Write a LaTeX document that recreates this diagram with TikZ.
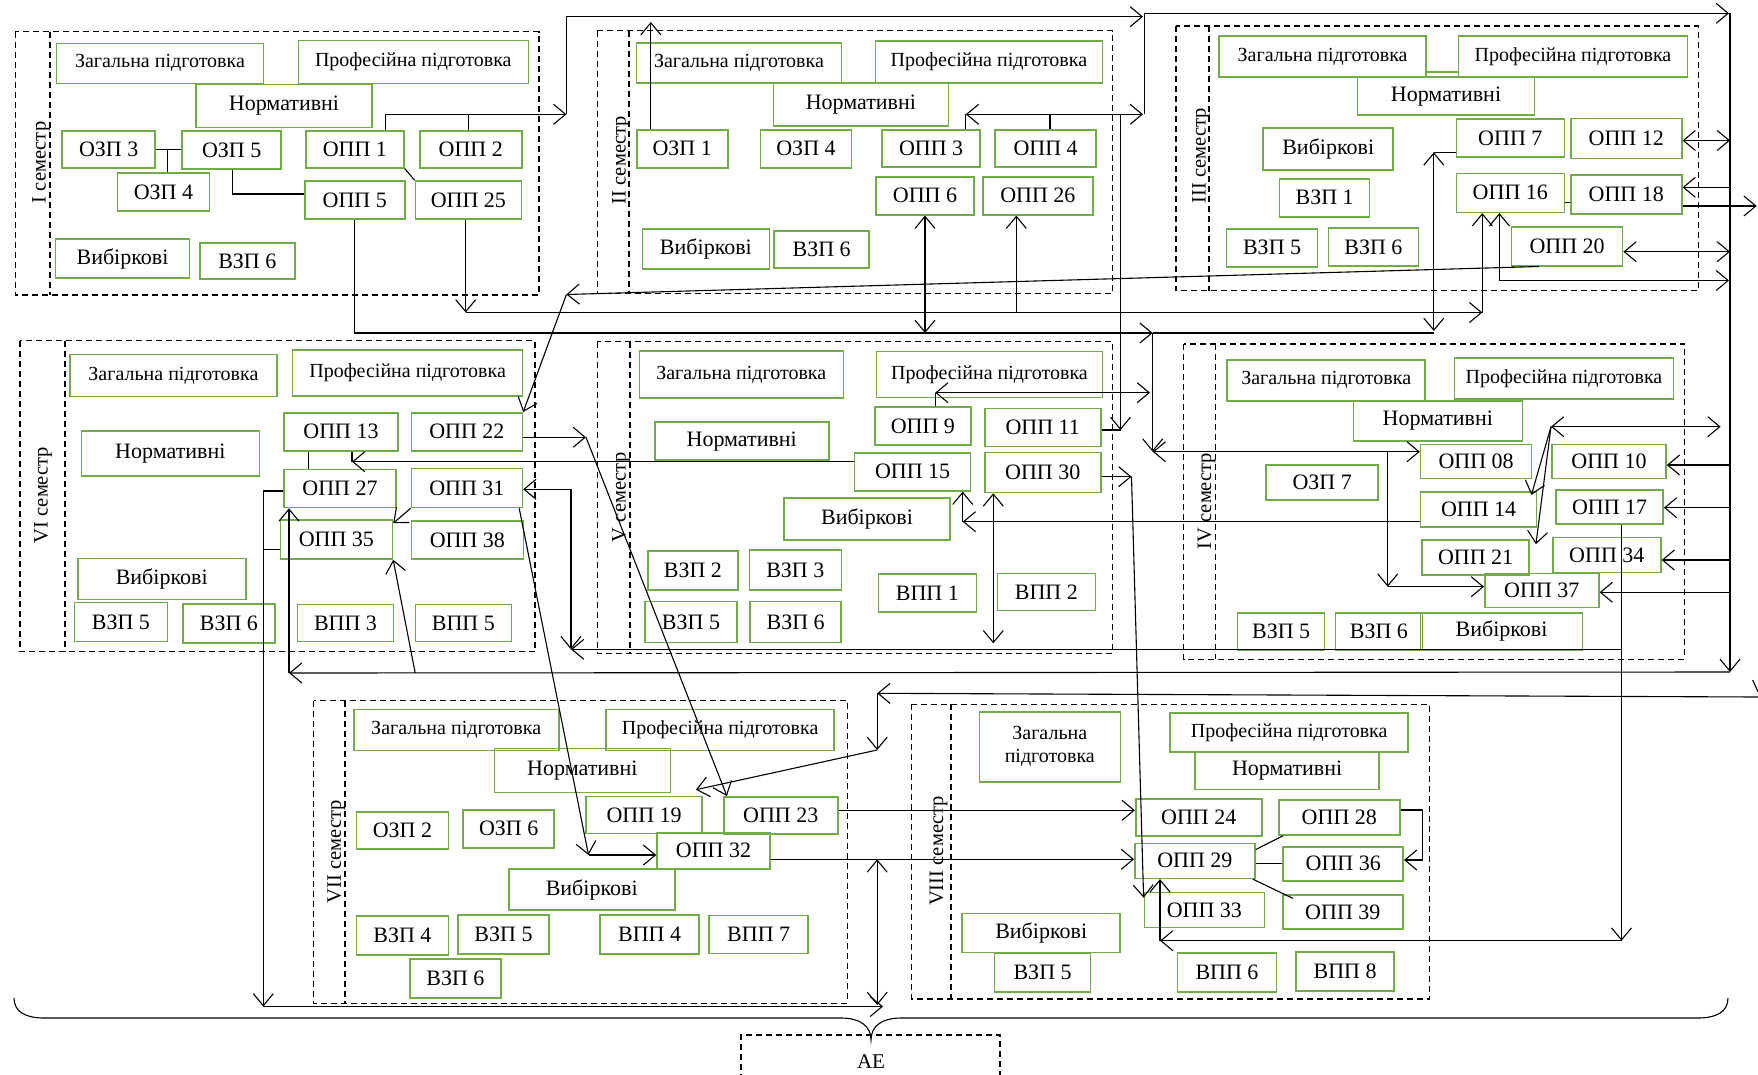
\documentclass[tikz,border=0pt]{standalone}
\usepackage{fontspec}
\setmainfont{Liberation Serif}
\usetikzlibrary{arrows.meta}
\definecolor{boxgreen}{RGB}{112,173,71}
\tikzset{
	>={Straight Barb[length=12pt,width=20pt]},
	gbox/.style={draw=boxgreen, line width=1.6pt, minimum height=37pt, inner sep=1pt, align=center, font=\fontsize{22}{24}\selectfont},
	headbox/.style={gbox, font=\fontsize{20}{23}\selectfont},
	sembox/.style={draw, line width=1.4pt, dash pattern=on 6pt off 4pt},
	semlabel/.style={rotate=90, font=\fontsize{20.5}{23}\selectfont}
}

\begin{document}
\begin{tikzpicture}[x=1pt, y=-1pt, line width=1.1pt]
	\useasboundingbox (0,0) rectangle (1758,1074);

	\draw[sembox] (15.3,31.7) rectangle (538.9,295);
	\draw[sembox] (49.8,31.7) -- (49.8,295);
	\draw[sembox] (597.2,30.7) rectangle (1112.7,293.3);
	\draw[sembox] (629,30.7) -- (629,293.3);
	\draw[sembox] (1176,26) rectangle (1698.5,290.7);
	\draw[sembox] (1208.8,26) -- (1208.8,290.7);
	\draw[sembox] (1183.6,344) rectangle (1684.4,659.3);
	\draw[sembox] (1215.3,344) -- (1215.3,659.3);
	\draw[sembox] (597.2,341.7) rectangle (1112.7,653.3);
	\draw[sembox] (629.8,341.7) -- (629.8,653.3);
	\draw[sembox] (19.9,340.7) rectangle (535,651.7);
	\draw[sembox] (65,340.7) -- (65,651.7);
	\draw[sembox] (313.7,700.7) rectangle (847.2,1003.3);
	\draw[sembox] (345,700.7) -- (345,1003.3);
	\draw[sembox] (911.7,704.3) rectangle (1429.5,999);
	\draw[sembox] (951.1,704.3) -- (951.1,999);
	\draw[sembox] (741,1080) -- (741,1035) -- (1000,1035) -- (1000,1080);

	\node[semlabel] (lab1) at (41,162.5) {I семестр};
	\node[semlabel] (lab2) at (621,160) {II семестр};
	\node[semlabel] (lab3) at (1201,156) {III семестр};
	\node[semlabel] (lab4) at (1206.6,501) {IV семестр};
	\node[semlabel] (lab5) at (621,497.5) {V семестр};
	\node[semlabel] (lab6) at (43,495) {VI семестр};
	\node[semlabel] (lab7) at (336.4,851.7) {VII семестр};
	\node[semlabel] (lab8) at (938.5,850.8) {VIII семестр};
	\node[font=\fontsize{21}{23}\selectfont] (ae) at (871,1062) {АЕ};

	\node[headbox, minimum width=207pt, minimum height=40pt] (zag1) at (160,63.3) {Загальна підготовка};
	\node[headbox, minimum width=230pt, minimum height=43pt] (prof1) at (413.3,62) {Професійна підготовка};
	\node[gbox, minimum width=176pt, minimum height=43pt] (norm1) at (284,105.8) {Нормативні};
	\node[gbox, minimum width=93pt] (ozp3) at (108.7,149.2) {ОЗП 3};
	\node[gbox, minimum width=99pt, minimum height=38pt] (ozp5) at (231.7,150) {ОЗП 5};
	\node[gbox, minimum width=92pt, minimum height=38pt] (ozp4) at (163.4,192.2) {ОЗП 4};
	\node[gbox, minimum width=98pt] (opp1) at (354.9,149.3) {ОПП 1};
	\node[gbox, minimum width=102pt] (opp2) at (470.7,149.3) {ОПП 2};
	\node[gbox, minimum width=100pt, minimum height=38pt] (opp5) at (354.8,200) {ОПП 5};
	\node[gbox, minimum width=106pt, minimum height=38pt] (opp25) at (468.4,200) {ОПП 25};
	\node[gbox, minimum width=134pt, minimum height=39pt] (vyb1) at (122.5,258.7) {Вибіркові};
	\node[gbox, minimum width=95pt, minimum height=36pt] (vzp6a) at (247.3,261) {ВЗП 6};

	\node[headbox, minimum width=205pt, minimum height=40pt] (zag2) at (739,62.7) {Загальна підготовка};
	\node[headbox, minimum width=227pt, minimum height=42pt] (prof2) at (988.9,61.7) {Професійна підготовка};
	\node[gbox, minimum width=175pt, minimum height=43pt] (norm2) at (860.9,104.7) {Нормативні};
	\node[gbox, minimum width=91pt, minimum height=38pt] (ozp1) at (682.2,148.8) {ОЗП 1};
	\node[gbox, minimum width=91pt, minimum height=38pt] (ozp4b) at (806,148.8) {ОЗП 4};
	\node[gbox, minimum width=98pt] (opp3) at (931.1,148.3) {ОПП 3};
	\node[gbox, minimum width=101pt] (opp4) at (1045.6,148.3) {ОПП 4};
	\node[gbox, minimum width=98pt, minimum height=38pt] (opp6) at (925,195.8) {ОПП 6};
	\node[gbox, minimum width=110pt, minimum height=38pt] (opp26) at (1037.9,195.8) {ОПП 26};
	\node[gbox, minimum width=127pt, minimum height=40pt] (vyb2) at (705.9,249.2) {Вибіркові};
	\node[gbox, minimum width=95pt] (vzp6b) at (821.7,249.7) {ВЗП 6};

	\node[headbox, minimum width=207pt, minimum height=41pt] (zag3) at (1322.6,56.7) {Загальна підготовка};
	\node[headbox, minimum width=229pt, minimum height=41pt] (prof3) at (1573,56.7) {Професійна підготовка};
	\node[gbox, minimum width=177pt, minimum height=38pt] (norm3) at (1446,96.2) {Нормативні};
	\node[gbox, minimum width=130pt, minimum height=42pt] (vyb3) at (1328.2,149.2) {Вибіркові};
	\node[gbox, minimum width=90pt, minimum height=38pt] (vzp1) at (1324.6,197.8) {ВЗП 1};
	\node[gbox, minimum width=91pt, minimum height=38pt] (vzp5c) at (1272.1,247.8) {ВЗП 5};
	\node[gbox, minimum width=90pt, minimum height=38pt] (vzp6c) at (1373.4,247.2) {ВЗП 6};
	\node[gbox, minimum width=108pt, minimum height=38pt] (opp7) at (1510.3,138.2) {ОПП 7};
	\node[gbox, minimum width=111pt, minimum height=40pt] (opp12) at (1626.2,138.3) {ОПП 12};
	\node[gbox, minimum width=108pt, minimum height=39pt] (opp16) at (1510.3,192.8) {ОПП 16};
	\node[gbox, minimum width=111pt, minimum height=39pt] (opp18) at (1626.2,194.5) {ОПП 18};
	\node[gbox, minimum width=111pt, minimum height=39pt] (opp20) at (1567.1,246.2) {ОПП 20};

	\node[headbox, minimum width=198pt, minimum height=41pt] (zag4) at (1326.2,380.3) {Загальна підготовка};
	\node[headbox, minimum width=219pt, minimum height=41pt] (prof4) at (1564,378.7) {Професійна підготовка};
	\node[gbox, minimum width=169pt, minimum height=40pt] (norm4) at (1437.8,420.7) {Нормативні};
	\node[gbox, minimum width=111pt, minimum height=34pt] (opp08) at (1476.1,461.3) {ОПП 08};
	\node[gbox, minimum width=114pt, minimum height=34pt] (opp10) at (1609,461.3) {ОПП 10};
	\node[gbox, minimum width=112pt, minimum height=35pt] (ozp7) at (1322.2,482.5) {ОЗП 7};
	\node[gbox, minimum width=116pt, minimum height=35pt] (opp14) at (1478.6,509.2) {ОПП 14};
	\node[gbox, minimum width=107pt, minimum height=34pt] (opp17) at (1609.6,507.2) {ОПП 17};
	\node[gbox, minimum width=107pt, minimum height=35pt] (opp21) at (1475.6,557.5) {ОПП 21};
	\node[gbox, minimum width=108pt, minimum height=35pt] (opp34) at (1606.8,555) {ОПП 34};
	\node[gbox, minimum width=114pt, minimum height=34pt] (opp37) at (1541.8,590.3) {ОПП 37};
	\node[gbox, minimum width=87pt] (vzp5d) at (1281.1,631.3) {ВЗП 5};
	\node[gbox, minimum width=87pt] (vzp6d) at (1378.9,631.6) {ВЗП 6};
	\node[gbox, minimum width=162pt] (vyb4) at (1501.5,631.3) {Вибіркові};

	\node[headbox, minimum width=204pt, minimum height=47pt] (zag5) at (741.3,374.5) {Загальна підготовка};
	\node[headbox, minimum width=226pt, minimum height=46pt] (prof5) at (989.5,374.5) {Професійна підготовка};
	\node[gbox, minimum width=174pt, minimum height=38pt] (norm5) at (741.7,441.2) {Нормативні};
	\node[gbox, minimum width=96pt, minimum height=38pt] (opp9) at (922.9,426.2) {ОПП 9};
	\node[gbox, minimum width=116pt, minimum height=38pt] (opp11) at (1042.7,427.5) {ОПП 11};
	\node[gbox, minimum width=116pt, minimum height=38pt] (opp15) at (912.6,471.8) {ОПП 15};
	\node[gbox, minimum width=116pt, minimum height=40pt] (opp30) at (1042.7,472.5) {ОПП 30};
	\node[gbox, minimum width=166pt, minimum height=42pt] (vyb5) at (867,519.2) {Вибіркові};
	\node[gbox, minimum width=90pt, minimum height=39pt] (vzp2) at (692.9,570.5) {ВЗП 2};
	\node[gbox, minimum width=92pt, minimum height=40pt] (vzp3) at (795.3,570) {ВЗП 3};
	\node[gbox, minimum width=92pt, minimum height=41pt] (vzp5e) at (691,622) {ВЗП 5};
	\node[gbox, minimum width=91pt, minimum height=41pt] (vzp6e) at (795.7,622) {ВЗП 6};
	\node[gbox, minimum width=98pt, minimum height=38pt] (vpp1) at (927.3,592.8) {ВПП 1};
	\node[gbox, minimum width=98pt] (vpp2) at (1046.3,592) {ВПП 2};

	\node[headbox, minimum width=207pt, minimum height=42pt] (zag6) at (173.4,375.5) {Загальна підготовка};
	\node[headbox, minimum width=230pt, minimum height=46pt] (prof6) at (407.6,373) {Професійна підготовка};
	\node[gbox, minimum width=178pt, minimum height=45pt] (norm6) at (170.3,453.5) {Нормативні};
	\node[gbox, minimum width=114pt, minimum height=38pt] (opp13) at (341,431.8) {ОПП 13};
	\node[gbox, minimum width=111pt, minimum height=38pt] (opp22) at (466.9,431.8) {ОПП 22};
	\node[gbox, minimum width=112pt, minimum height=38pt] (opp27) at (340,488.5) {ОПП 27};
	\node[gbox, minimum width=111pt, minimum height=39pt] (opp31) at (466.9,488) {ОПП 31};
	\node[gbox, minimum width=112pt, minimum height=39pt] (opp35) at (336.4,539.5) {ОПП 35};
	\node[gbox, minimum width=112pt, minimum height=38pt] (opp38) at (467.4,539.8) {ОПП 38};
	\node[gbox, minimum width=168pt, minimum height=41pt] (vyb6) at (161.7,578.8) {Вибіркові};
	\node[gbox, minimum width=93pt, minimum height=39pt] (vzp5f) at (120.9,622) {ВЗП 5};
	\node[gbox, minimum width=92pt, minimum height=39pt] (vzp6f) at (228.9,623.7) {ВЗП 6};
	\node[gbox, minimum width=96pt] (vpp3) at (345.5,623) {ВПП 3};
	\node[gbox, minimum width=96pt] (vpp5) at (463.4,623) {ВПП 5};

	\node[headbox, minimum width=205pt, minimum height=41pt] (zag7) at (456.2,730) {Загальна підготовка};
	\node[headbox, minimum width=228pt, minimum height=41pt] (prof7) at (720.1,730) {Професійна підготовка};
	\node[gbox, minimum width=176pt, minimum height=44pt] (norm7) at (582.3,770.5) {Нормативні};
	\node[gbox, minimum width=92pt] (ozp2) at (402.4,830.3) {ОЗП 2};
	\node[gbox, minimum width=91pt, minimum height=38pt] (ozp6) at (508.7,828.8) {ОЗП 6};
	\node[gbox, minimum width=116pt] (opp19) at (644.1,815) {ОПП 19};
	\node[gbox, minimum width=114pt] (opp23) at (780.7,815.3) {ОПП 23};
	\node[gbox, minimum width=113pt, minimum height=36pt] (opp32) at (713.5,850.8) {ОПП 32};
	\node[gbox, minimum width=166pt, minimum height=41pt] (vyb7) at (591.7,889.7) {Вибіркові};
	\node[gbox, minimum width=92pt, minimum height=39pt] (vzp4) at (402.4,935.3) {ВЗП 4};
	\node[gbox, minimum width=91pt, minimum height=39pt] (vzp5g) at (503.5,934.7) {ВЗП 5};
	\node[gbox, minimum width=91pt, minimum height=39pt] (vzp6g) at (455.4,978.7) {ВЗП 6};
	\node[gbox, minimum width=99pt, minimum height=39pt] (vpp4) at (649.6,934.7) {ВПП 4};
	\node[gbox, minimum width=99pt, minimum height=38pt] (vpp7) at (758.7,934.5) {ВПП 7};

	\node[headbox, minimum width=141pt, minimum height=70pt] (zag8) at (1049.8,746.7) {Загальна\\підготовка};
	\node[headbox, minimum width=238pt, minimum height=39pt] (prof8) at (1289.2,732.2) {Професійна підготовка};
	\node[gbox, minimum width=184pt, minimum height=38pt] (norm8) at (1287.1,770.5) {Нормативні};
	\node[gbox, minimum width=126pt] (opp24) at (1198.7,817.7) {ОПП 24};
	\node[gbox, minimum width=121pt, minimum height=35pt] (opp28) at (1339.3,817.5) {ОПП 28};
	\node[gbox, minimum width=120pt, minimum height=35pt] (opp29) at (1194.9,860.8) {ОПП 29};
	\node[gbox, minimum width=120pt, minimum height=34pt] (opp36) at (1343.2,863.7) {ОПП 36};
	\node[gbox, minimum width=120pt, minimum height=35pt] (opp33) at (1204.4,910) {ОПП 33};
	\node[gbox, minimum width=120pt, minimum height=34pt] (opp39) at (1342.8,912.2) {ОПП 39};
	\node[gbox, minimum width=158pt, minimum height=39pt] (vyb8) at (1041.2,933) {Вибіркові};
	\node[gbox, minimum width=96pt, minimum height=39pt] (vzp5h) at (1042.6,972.2) {ВЗП 5};
	\node[gbox, minimum width=99pt, minimum height=39pt] (vpp6) at (1227,972.2) {ВПП 6};
	\node[gbox, minimum width=98pt, minimum height=39pt] (vpp8) at (1345.1,971.3) {ВПП 8};

	\draw[draw=boxgreen, line width=1.6pt] ([yshift=-15pt]zag3.east) -- ([yshift=-15pt]zag3.east -| prof3.west);

	\coordinate (j1) at (167.2,149.3);
	\coordinate (j2) at (232.3,194);
	\draw (ozp3.east |- j1) -- (ozp5.west |- j1);
	\draw (j1) -- (j1 |- ozp4.north);
	\draw (j2 |- ozp5.south) -- (j2) -- (j2 -| opp5.west);
	\draw (opp1.south east) -- (opp25.north west);

	\coordinate (t1) at (385.8,114.3);
	\coordinate (t2) at (566.4,114.3);
	\coordinate (t3) at (468.8,114.3);
	\coordinate (t4) at (566.4,16.7);
	\coordinate (t5) at (1143,16.7);
	\draw[->] (t1 |- opp1.north) -- (t1) -- (t2);
	\draw (t3 |- opp2.north) -- (t3);
	\draw[->] (t2) -- (t4) -- (t5);

	\coordinate (t6) at (650.8,22);
	\coordinate (t7) at (965.8,114.3);
	\coordinate (t8) at (1143,114.3);
	\coordinate (t9) at (1050,114.3);
	\coordinate (r0) at (1144.5,114.3);
	\coordinate (r1) at (1144.5,13.3);
	\coordinate (r2) at (1729,13.3);
	\coordinate (r3) at (1730,672);
	\draw[->] (t6 |- ozp1.north) -- (t6);
	\draw (t7 |- opp3.north) -- (t7);
	\draw[<->] (t7) -- (t8);
	\draw (t9 |- opp4.north) -- (t9);
	\draw[->] (r0) -- (r1) -- (r2);
	\draw[->] (r2 -| r3) -- (r3);

	\coordinate (t11) at (1120.5,114.3);
	\coordinate (t12) at (1120.5,430);
	\draw[->] (t11) -- (t12);
	\draw (opp11.east |- t12) -- (t12);

	\coordinate (b0) at (354.8,333);
	\coordinate (b1) at (1152.7,333);
	\coordinate (b3) at (1152.7,451.7);
	\coordinate (b4) at (1387.7,451.7);
	\coordinate (b5) at (1387.7,586.7);
	\draw[->] (opp5.south) -- (b0) -- (b1);
	\draw (b1) -- (1433.8,333);
	\draw[->] (b1) -- (b3);
	\draw[<->] (b3) -- (b3 -| opp08.west);
	\draw[->] (b4) -- (b5);
	\draw[->] (b5) -- (b5 -| opp37.west);
	\draw[<->] (opp6.south) -- (opp6.south |- b1);

	\coordinate (u1) at (465.7,312.5);
	\coordinate (u2) at (1482.3,312.5);
	\coordinate (u3) at (1016.3,312.5);
	\draw[->] (u1 |- opp25.south) -- (u1);
	\draw[->] (u1) -- (u2);
	\draw[->] (u2) -- (u2 |- opp16.south);
	\draw[->] (u3) -- (u3 |- opp26.south);

	\coordinate (v1) at (1433.8,152.3);
	\coordinate (v2) at (1433.8,331);
	\coordinate (v3) at (1499.4,280.5);
	\coordinate (v4) at (1729,280.5);
	\coordinate (v5) at (1730,187.3);
	\coordinate (v6) at (1756.7,206);
	\coordinate (v7) at (1730,251.7);
	\draw (opp7.west |- v1) -- (v1);
	\draw[<->] (v1) -- (v2);
	\draw[<->] (v3 |- opp16.south) -- (v3) -- (v4);
	\draw[<->] (opp12.east |- 0,140.5) -- (r3 |- 0,140.5);
	\draw[->] (v5) -- (v5 -| opp18.east);
	\draw[->] (v6 -| opp18.east) -- (v6);
	\draw[<->] (v7 -| opp20.east) -- (v7);
	\draw ([yshift=-9.5pt]opp16.east) -- ([yshift=-9.5pt]opp16.east -| opp18.west);

	\coordinate (w1) at (566.4,294.5);
	\draw[->] ([xshift=28pt]opp20.south west) -- (w1);
	\draw[->] (w1) -- (opp22.north east);

	\coordinate (x1) at (1730,465);
	\coordinate (x2) at (1730,507.7);
	\coordinate (x3) at (1730,560);
	\coordinate (x4) at (1730,592.3);
	\coordinate (x5) at (1551,426.7);
	\coordinate (x6) at (1720.6,426.7);
	\coordinate (x7) at (962.7,521.7);
	\coordinate (x8) at (1621.5,940.7);
	\coordinate (x9) at (1160,940.7);
	\draw[->] (x1) -- (x1 -| opp10.east);
	\draw[->] (x2) -- (x2 -| opp17.east);
	\draw[->] (x3) -- (x3 -| opp34.east);
	\draw[->] (x4) -- (x4 -| opp37.east);
	\draw[<->] (x5) -- (x6);
	\draw[->] (x5) -- ([xshift=-6pt,yshift=-4pt]opp14.north east);
	\draw[->] (x5) -- ([xshift=6pt,yshift=-5pt]opp21.north east);
	\draw[->] (opp14.west |- x7) -- (x7);
	\draw[->] (x7) -- (x7 |- opp15.south);
	\draw[->] (x8 |- opp17.south) -- (x8);
	\draw[->] (x8) -- (x9);
	\draw[->] (x9) -- (x9 |- opp29.south);

	\coordinate (y1) at (1621.5,649.3);
	\coordinate (y2) at (571,649.3);
	\coordinate (y3) at (571,489.3);
	\draw[->] (y1) -- (y2);
	\draw[<->] (opp31.east |- y3) -- (y3) -- (y2);

	\coordinate (z1) at (935.2,392.7);
	\coordinate (z2) at (1150,392.7);
	\coordinate (z3) at (352,461.7);
	\coordinate (z4) at (1131.5,476.7);
	\coordinate (z5) at (993.3,643.3);
	\draw (z1 |- opp9.north) -- (z1);
	\draw[<->] (z1) -- (z2);
	\draw[->] (opp15.west |- z3) -- (z3);
	\draw (z3 |- opp13.south) -- (z3);
	\draw[->] (opp30.east |- z4) -- (z4);
	\draw[->] (z4) -- ([yshift=-6pt]opp33.north west);
	\draw[<->] (z5 |- opp30.south) -- (z5);

	\coordinate (k1) at (308.8,450);
	\coordinate (k2) at (586,437.3);
	\coordinate (k3) at (588.5,855);
	\coordinate (k4) at (263.3,491);
	\coordinate (k5) at (263.3,1006.5);
	\coordinate (k6) at (883,1006.5);
	\coordinate (k7) at (263.3,549.3);
	\coordinate (k8) at (289,673);
	\coordinate (k9) at (415.2,673);
	\draw (opp13.south -| k1) -- (opp27.north -| k1);
	\draw[->] (opp31.south west) -- ([yshift=-4pt]opp35.north east);
	\draw[->] (opp22.east |- k2) -- (k2);
	\draw[->] (k2) -- ([xshift=4pt]opp23.north west);
	\draw[->] ([xshift=-4pt]opp31.south east) -- (k3);
	\draw[->] (k3) -- (k3 -| opp32.west);
	\draw (opp27.west |- k4) -- (k4);
	\draw (opp35.west |- k7) -- (k7);
	\draw[->] (k4) -- (k5);
	\draw[->] (k5) -- (k6);
	\draw[->] (r3) -- (k8);
	\draw[->] (k8) -- (k8 |- opp27.south);
	\draw[->] (k9) -- (opp35.south east);

	\coordinate (m1) at (1758,697);
	\coordinate (m2) at (877.2,693.3);
	\coordinate (m3) at (877.2,750);
	\coordinate (m4) at (1752.7,680);
	\coordinate (m5) at (1758,691.7);
	\draw[->] (m1) -- (m2);
	\draw[->] (m2) -- (m3);
	\draw[->] (m3) -- ([xshift=-7pt,yshift=6pt]opp19.north east);
	\draw (m4) -- (m5);

	\coordinate (n1) at (838,810.3);
	\coordinate (n2) at (877.2,859.3);
	\coordinate (n3) at (877.2,1005);
	\coordinate (n4) at (1422.6,810);
	\coordinate (n5) at (1422.6,860);
	\draw[->] (opp23.east |- n1) -- (opp24.west |- n1);
	\draw[->] (opp32.east |- n2) -- (opp29.west |- n2);
	\draw[<->] (n2) -- (n3);
	\draw ([yshift=-7pt]opp29.north east) -- ([xshift=5pt]opp28.south west);
	\draw ([yshift=-2.5pt]opp29.east) -- ([yshift=-2.5pt]opp29.east -| opp36.west);
	\draw ([xshift=-3pt]opp29.south east) -- ([xshift=11pt,yshift=-4pt]opp39.north west);
	\draw[->] (opp28.east |- n4) -- (n4) -- (n5) -- (n5 -| opp36.east);

	\draw (14,998) .. controls (14,1012) and (26,1018) .. (44,1018) -- (841,1018) .. controls (860,1018) and (871,1026) .. (871,1040) .. controls (871,1026) and (882,1018) .. (901,1018) -- (1698,1018) .. controls (1716,1018) and (1728,1012) .. (1728,998);
\end{tikzpicture}
\end{document}
